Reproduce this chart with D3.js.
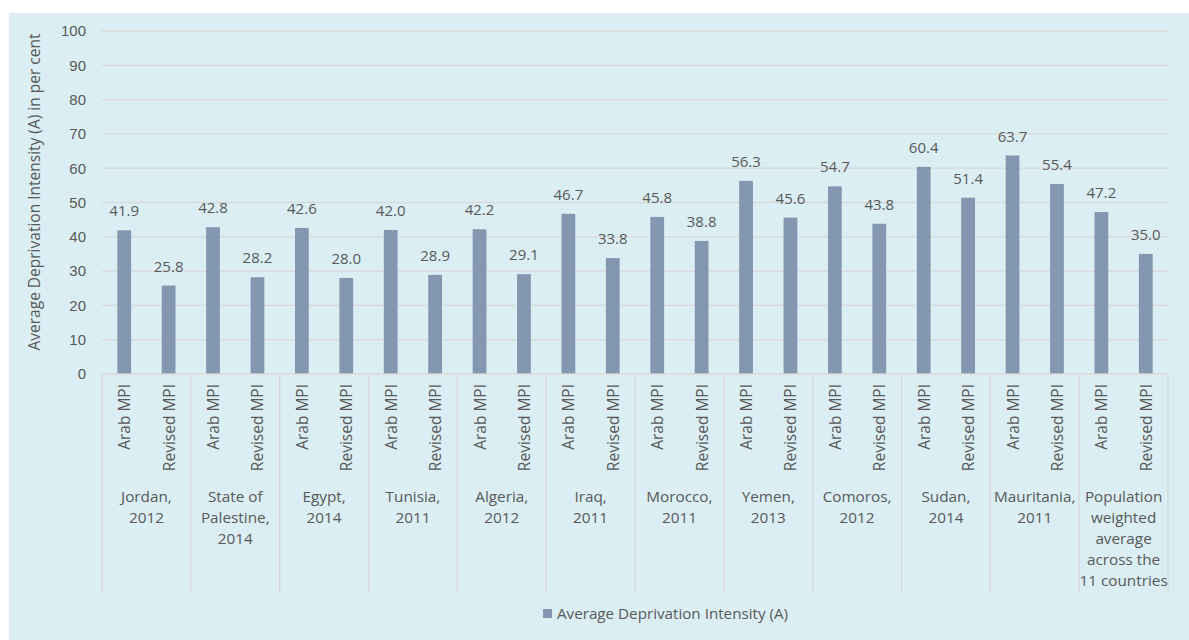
<!DOCTYPE html>
<html>
<head>
<meta charset="utf-8">
<script src="https://cdn.jsdelivr.net/npm/d3@7"></script>
<style>
  body { margin: 0; background: #fff; }
  svg { display: block; font-family: "Open Sans", "Noto Sans", sans-serif; }
</style>
</head>
<body>
<svg id="chart"></svg>
<script>
// данные
const countries = [
  ["Jordan,", "2012"],
  ["State of", "Palestine,", "2014"],
  ["Egypt,", "2014"],
  ["Tunisia,", "2011"],
  ["Algeria,", "2012"],
  ["Iraq,", "2011"],
  ["Morocco,", "2011"],
  ["Yemen,", "2013"],
  ["Comoros,", "2012"],
  ["Sudan,", "2014"],
  ["Mauritania,", "2011"],
  ["Population", "weighted", "average", "across the", "11 countries"]
]
const measures = ["Arab MPI", "Revised MPI"]
const arabValues = [41.9, 42.8, 42.6, 42.0, 42.2, 46.7, 45.8, 56.3, 54.7, 60.4, 63.7, 47.2]
const revisedValues = [25.8, 28.2, 28.0, 28.9, 29.1, 33.8, 38.8, 45.6, 43.8, 51.4, 55.4, 35.0]
const yTicks = [0, 10, 20, 30, 40, 50, 60, 70, 80, 90, 100]
const seriesName = "Average Deprivation Intensity (A)"
const yTitle = "Average Deprivation Intensity (A) in per cent"

const colors = {
  panel: "#DAEEF3",
  bar: "#8497B0",
  grid: "#D9D9D9",
  text: "#595959"
}

const W = 1189, H = 640
const margin = {left: 102, right: 21, top: 31, bottom: 266}

const svg = d3.select("#chart").attr("width", W).attr("height", H)

// фон
svg.append("rect").attr("x", 9).attr("y", 13).attr("width", W - 9).attr("height", H - 13)
  .attr("fill", colors.panel)

// плоский список столбцов
const bars = []
countries.forEach((c, i) => {
  bars.push({group: i, measure: measures[0], value: arabValues[i]})
  bars.push({group: i, measure: measures[1], value: revisedValues[i]})
})

const x = d3.scaleBand().domain(d3.range(bars.length))
  .range([margin.left, W - margin.right]).paddingInner(0.69).paddingOuter(0.345)
const xGroup = d3.scaleBand().domain(d3.range(countries.length))
  .range([margin.left, W - margin.right])
const y = d3.scaleLinear().domain([0, 100]).range([H - margin.bottom, margin.top])

// сетка
svg.append("g").selectAll("line").data(yTicks.filter(d => d > 0)).enter()
  .append("line")
  .attr("x1", margin.left).attr("x2", W - margin.right)
  .attr("y1", d => y(d)).attr("y2", d => y(d))
  .attr("stroke", colors.grid).attr("stroke-width", 1.3)

// ось Y
const yAxis = svg.append("g").attr("transform", `translate(${margin.left - 16},0)`)
  .call(d3.axisLeft(y).tickValues(yTicks).tickSize(0).tickPadding(0))
yAxis.select(".domain").remove()
yAxis.selectAll("text").attr("fill", colors.text).style("font-size", "15px")

svg.append("text")
  .attr("transform", `translate(40,192) rotate(-90)`)
  .attr("text-anchor", "middle").attr("fill", colors.text).style("font-size", "15.5px")
  .text(yTitle)

// столбцы
svg.append("g").selectAll("rect").data(bars).enter()
  .append("rect")
  .attr("x", (d, i) => x(i)).attr("width", x.bandwidth())
  .attr("y", d => y(d.value)).attr("height", d => y(0) - y(d.value))
  .attr("fill", colors.bar)

// подписи значений
svg.append("g").selectAll("text").data(bars).enter()
  .append("text")
  .attr("x", (d, i) => x(i) + x.bandwidth() / 2)
  .attr("y", d => y(d.value) - 14)
  .attr("text-anchor", "middle").attr("fill", colors.text).style("font-size", "15px")
  .text(d => d.value.toFixed(1))

// нижняя ось: разделители
const sepBottom = 592
svg.append("line").attr("x1", margin.left).attr("x2", W - margin.right)
  .attr("y1", y(0)).attr("y2", y(0)).attr("stroke", colors.grid).attr("stroke-width", 1.3)
svg.append("g").selectAll("line").data(d3.range(countries.length + 1)).enter()
  .append("line")
  .attr("x1", d => d < countries.length ? xGroup(d) : W - margin.right)
  .attr("x2", d => d < countries.length ? xGroup(d) : W - margin.right)
  .attr("y1", y(0)).attr("y2", sepBottom)
  .attr("stroke", colors.grid).attr("stroke-width", 1.3)

// подписи показателей (повернутые)
svg.append("g").selectAll("text").data(bars).enter()
  .append("text")
  .attr("transform", (d, i) => `translate(${x(i) + x.bandwidth() / 2 + 6},${y(0) + 10}) rotate(-90)`)
  .attr("text-anchor", "end").attr("fill", colors.text).style("font-size", "15.5px")
  .text(d => d.measure)

// подписи стран
const groupLabels = svg.append("g").selectAll("text").data(countries).enter()
  .append("text")
  .attr("text-anchor", "middle").attr("fill", colors.text).style("font-size", "15.3px")
groupLabels.selectAll("tspan").data((d, i) => d.map(t => ({t, i}))).enter()
  .append("tspan")
  .attr("x", d => xGroup(d.i) + xGroup.bandwidth() / 2)
  .attr("y", (d, j) => 502 + j * 21)
  .text(d => d.t)

// легенда
const legend = svg.append("g").attr("transform", "translate(543,609)")
legend.append("rect").attr("width", 9).attr("height", 9).attr("fill", colors.bar)
legend.append("text").attr("x", 14).attr("y", 10).attr("fill", colors.text)
  .style("font-size", "15.2px").text(seriesName)
</script>
</body>
</html>
